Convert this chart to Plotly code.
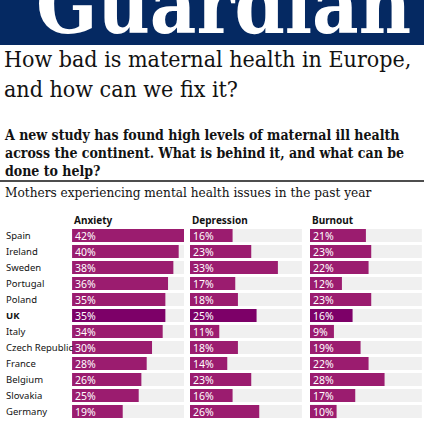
import plotly.graph_objects as go
from plotly.subplots import make_subplots

countries = ["Spain", "Ireland", "Sweden", "Portugal", "Poland", "UK", "Italy",
             "Czech Republic", "France", "Belgium", "Slovakia", "Germany"]
anxiety = [42, 40, 38, 36, 35, 35, 34, 30, 28, 26, 25, 19]
depression = [16, 23, 33, 17, 18, 25, 11, 18, 14, 23, 16, 26]
burnout = [21, 23, 22, 12, 23, 16, 9, 19, 22, 28, 17, 10]
panels = ["Anxiety", "Depression", "Burnout"]

bar_col = '#9b1c6f'
uk_col = '#7d0068'
track_col = '#f0f0f0'
serif = 'DejaVu Serif Condensed, DejaVu Serif'

fig = make_subplots(rows=1, cols=3, shared_yaxes=True, horizontal_spacing=0.0)

for i, vals in enumerate([anxiety, depression, burnout]):
    fig.add_trace(go.Bar(
        y=countries, x=[42] * len(countries), orientation='h',
        marker=dict(color=track_col, line=dict(width=0)), hoverinfo='skip', showlegend=False
    ), row=1, col=i + 1)
    fig.add_trace(go.Bar(
        y=countries, x=vals, orientation='h',
        marker=dict(color=[uk_col if c == "UK" else bar_col for c in countries], line=dict(width=0)),
        text=[f"{v}%" for v in vals], textposition='inside', insidetextanchor='start',
        textfont=dict(color='white', size=10.5, family='Noto Sans'),
        constraintext='none', cliponaxis=False, showlegend=False
    ), row=1, col=i + 1)

doms = [(0.170, 0.434), (0.448, 0.712), (0.731, 1.0)]
ranges = [[0, 42], [0, 42], [0, 42.8]]
for i in range(3):
    fig.update_xaxes(domain=list(doms[i]), range=ranges[i], visible=False, row=1, col=i + 1)
    fig.add_annotation(text=f"<b>{panels[i]}</b>", x=doms[i][0], xref='paper', xanchor='left',
                       y=1 - 220 / 424, yref='paper', yanchor='middle', showarrow=False,
                       font=dict(size=10, family='Noto Sans', color='#121212'))

fig.update_yaxes(domain=[1 - 420 / 424, 1 - 227 / 424], autorange='reversed', visible=False)

for c in countries:
    fig.add_annotation(text=f"<b>{c}</b>" if c == "UK" else c, x=0.01, xref='paper', xanchor='left',
                       y=c, yref='y', showarrow=False,
                       font=dict(size=9.5, family='Noto Sans', color='#121212'))

# header band and texts
fig.add_shape(type='rect', xref='paper', yref='paper', x0=0, x1=1, y0=1 - 45 / 424, y1=1.01,
              fillcolor='#052962', line=dict(width=0))
fig.add_annotation(text="<b>Guardian</b>", x=0.975, xref='paper', xanchor='right',
                   y=1 - 54 / 424, yref='paper', yanchor='bottom', showarrow=False,
                   font=dict(size=80, family=serif, color='white'))
fig.add_shape(type='line', xref='paper', yref='paper', x0=0, x1=1, y0=1 - 181 / 424, y1=1 - 181 / 424,
              line=dict(color='#121212', width=1.5))

fig.add_annotation(text="How bad is maternal health in Europe,<br>and how can we fix it?",
                   x=0.005, xref='paper', xanchor='left', align='left',
                   y=1 - 44 / 424, yref='paper', yanchor='top', showarrow=False,
                   font=dict(size=23, family=serif, color='#121212'))
fig.add_annotation(text="<b>A new study has found high levels of maternal ill health<br>across the continent. What is behind it, and what can be<br>done to help?</b>",
                   x=0.005, xref='paper', xanchor='left', align='left',
                   y=1 - 125 / 424, yref='paper', yanchor='top', showarrow=False,
                   font=dict(size=14, family=serif, color='#121212'))
fig.add_annotation(text="Mothers experiencing mental health issues in the past year",
                   x=0.008, xref='paper', xanchor='left',
                   y=1 - 192 / 424, yref='paper', yanchor='middle', showarrow=False,
                   font=dict(size=13.5, family=serif, color='#121212'))

fig.update_layout(
    width=424, height=424, barmode='overlay', bargap=0.18,
    margin=dict(l=0, r=0, t=0, b=0),
    paper_bgcolor='white', plot_bgcolor='white'
)

fig.write_html("out.html", config={'displayModeBar': False},
               post_script="document.body.style.margin='0';")
